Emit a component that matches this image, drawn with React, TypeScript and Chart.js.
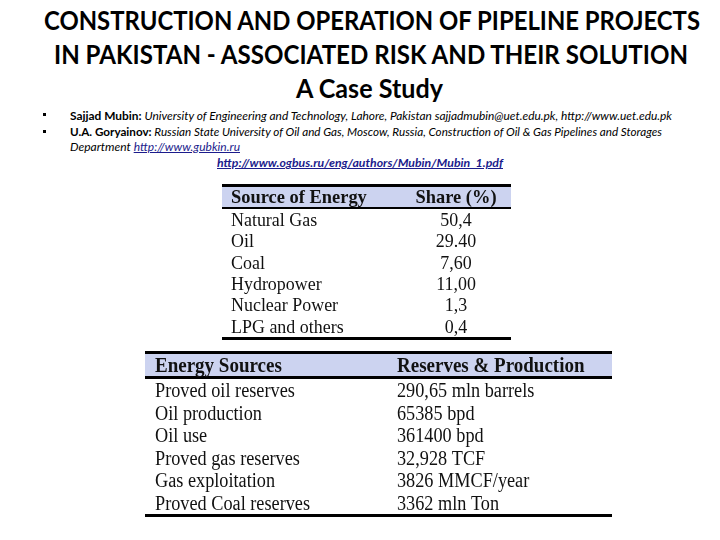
import React, { useEffect, useLayoutEffect, useRef } from "react";
import { Chart, registerables } from "chart.js";

Chart.register(...registerables);

// ---------- data ----------
const titleLines = [
  "CONSTRUCTION AND OPERATION OF PIPELINE PROJECTS",
  "IN PAKISTAN - ASSOCIATED RISK AND THEIR SOLUTION",
  "A Case Study",
];

const energySources = ["Natural Gas", "Oil", "Coal", "Hydropower", "Nuclear Power", "LPG and others"];
const energyShares = [50.4, 29.4, 7.6, 11.0, 1.3, 0.4];
const shareLabels = ["50,4", "29.40", "7,60", "11,00", "1,3", "0,4"];
const table1Header = ["Source of Energy", "Share (%)"];

const reserveItems = [
  "Proved oil reserves",
  "Oil production",
  "Oil use",
  "Proved gas reserves",
  "Gas exploitation",
  "Proved Coal reserves",
];
const reserveValues = [290.65, 65385, 361400, 32.928, 3826, 3362];
const reserveLabels = ["290,65 mln barrels", "65385 bpd", "361400 bpd", "32,928 TCF", "3826 MMCF/year", "3362 mln Ton"];
const table2Header = ["Energy Sources", "Reserves & Production"];

// ---------- drawing helpers ----------
function drawText(ctx: any, text: string, x: number, y: number, font: string, sx: number, align: string) {
  ctx.save();
  ctx.font = font;
  ctx.textAlign = "left";
  ctx.textBaseline = "alphabetic";
  const w = ctx.measureText(text).width * sx;
  const x0 = align === "center" ? x - w / 2 : x;
  ctx.translate(x0, y);
  ctx.scale(sx, 1);
  ctx.fillText(text, 0, 0);
  ctx.restore();
}

const tablePlugin = {
  id: "tableDraw",
  afterDraw(chart: any, _args: any, o: any) {
    const { ctx, chartArea } = chart;
    const yScale = chart.scales.y;
    const W = chart.width;
    ctx.save();
    // header band
    ctx.fillStyle = o.headerFill;
    ctx.fillRect(0, o.topRule, W, chartArea.top - o.midRule - o.topRule);
    ctx.fillStyle = "#000";
    ctx.fillRect(0, 0, W, o.topRule);
    ctx.fillRect(0, chartArea.top - o.midRule, W, o.midRule);
    ctx.fillRect(0, chartArea.bottom, W, o.bottomRule);
    // header text
    ctx.fillStyle = "#111";
    const headCenter = (o.topRule + chartArea.top - o.midRule) / 2;
    const headFont = `bold ${o.headSize}px "Liberation Serif", "Times New Roman", serif`;
    const bodyFont = `${o.bodySize}px "Liberation Serif", "Times New Roman", serif`;
    const hb = headCenter + o.headSize * 0.33;
    drawText(ctx, o.header[0], chartArea.left + o.col1, hb, headFont, o.headSx, "left");
    drawText(ctx, o.header[1], chartArea.left + o.col2, hb, headFont, o.headSx, o.col2Align);
    // rows
    const labels = chart.data.labels as string[];
    labels.forEach((lab: string, i: number) => {
      const yc = yScale.getPixelForValue(i);
      const b = yc + o.bodySize * 0.33;
      drawText(ctx, lab, chartArea.left + o.col1, b, bodyFont, o.bodySx, "left");
      drawText(ctx, o.valueLabels[i], chartArea.left + o.col2, b, bodyFont, o.bodySx, o.col2Align);
    });
    ctx.restore();
  },
};

function TableChart(props: any) {
  const ref = useRef<HTMLCanvasElement>(null);
  const g = props.geom;
  useEffect(() => {
    const chart = new Chart(ref.current as HTMLCanvasElement, {
      type: "bar",
      data: {
        labels: props.rows,
        datasets: [{ data: props.values, backgroundColor: "rgba(0,0,0,0)", borderWidth: 0 }],
      },
      options: {
        animation: false,
        responsive: false,
        devicePixelRatio: 1,
        indexAxis: "y",
        events: [],
        layout: { padding: { top: g.padTop, bottom: g.padBottom, left: 0, right: 0 } },
        scales: { x: { display: false }, y: { display: false } },
        plugins: {
          legend: { display: false },
          tooltip: { enabled: false },
          title: { display: false },
          tableDraw: {
            header: props.header,
            valueLabels: props.valueLabels,
            headerFill: "#ccd3f0",
            topRule: g.topRule,
            midRule: g.midRule,
            bottomRule: g.bottomRule,
            col1: g.col1,
            col2: g.col2,
            col2Align: g.col2Align,
            headSize: g.headSize,
            bodySize: g.bodySize,
            headSx: g.headSx,
            bodySx: g.bodySx,
          },
        } as any,
      } as any,
      plugins: [tablePlugin],
    });
    return () => chart.destroy();
  }, []);
  return (
    <canvas
      ref={ref}
      width={g.width}
      height={g.height}
      style={{ position: "absolute", left: g.left, top: g.top, width: g.width, height: g.height }}
    />
  );
}

function FitLine(props: any) {
  const ref = useRef<HTMLSpanElement>(null);
  useLayoutEffect(() => {
    const el = ref.current;
    if (!el) return;
    el.style.transform = "none";
    const w = el.getBoundingClientRect().width;
    if (w > 0) el.style.transform = `scaleX(${props.width / w})`;
  }, [props.width]);
  return (
    <div
      style={{
        position: "absolute",
        left: props.left,
        top: props.top,
        whiteSpace: "nowrap",
        lineHeight: props.lh + "px",
        height: props.lh,
      }}
    >
      <span ref={ref} style={{ display: "inline-block", transformOrigin: "0 50%", ...props.style }}>
        {props.children}
      </span>
    </div>
  );
}

const titleStyle = { fontFamily: "Lato, 'Open Sans', sans-serif", fontWeight: 700, fontSize: 26.5, color: "#000" };
const authStyle = { fontFamily: "Lato, 'Open Sans', sans-serif", fontSize: 11.5, color: "#000" };
const linkStyle = { color: "#1c1c8c", textDecoration: "underline" };

export default function App() {
  useLayoutEffect(() => {
    document.body.style.margin = "0";
    document.body.style.background = "#fff";
  }, []);

  return (
    <div style={{ position: "relative", width: 720, height: 540, overflow: "hidden", background: "#fff" }}>
      <FitLine left={44} top={4} width={656} lh={32} style={titleStyle}>{titleLines[0]}</FitLine>
      <FitLine left={54} top={38} width={634} lh={32} style={titleStyle}>{titleLines[1]}</FitLine>
      <FitLine left={296} top={72} width={147} lh={32} style={titleStyle}>{titleLines[2]}</FitLine>

      <div style={{ position: "absolute", left: 43, top: 113, width: 3, height: 3, background: "#000" }} />
      <div style={{ position: "absolute", left: 43, top: 130, width: 3, height: 3, background: "#000" }} />

      <FitLine left={70} top={108} width={602} lh={14} style={authStyle}>
        <b>Sajjad Mubin:</b>
        <i> University of Engineering and Technology, Lahore, Pakistan sajjadmubin@uet.edu.pk, http://www.uet.edu.pk</i>
      </FitLine>
      <FitLine left={70} top={124} width={592} lh={14} style={authStyle}>
        <b>U.A. Goryainov:</b>
        <i> Russian State University of Oil and Gas, Moscow, Russia, Construction of Oil &amp; Gas Pipelines and Storages</i>
      </FitLine>
      <FitLine left={70} top={139} width={170} lh={14} style={authStyle}>
        <i>Department </i>
        <i style={linkStyle}>http://www.gubkin.ru</i>
      </FitLine>
      <FitLine left={217} top={155} width={286} lh={14} style={authStyle}>
        <b><i style={linkStyle}>http://www.ogbus.ru/eng/authors/Mubin/Mubin_1.pdf</i></b>
      </FitLine>

      <TableChart
        rows={energySources}
        values={energyShares}
        valueLabels={shareLabels}
        header={table1Header}
        geom={{
          left: 222, top: 184, width: 289, height: 157, padTop: 25, padBottom: 4,
          topRule: 3, midRule: 2, bottomRule: 3, col1: 9, col2: 234, col2Align: "center",
          headSize: 19, bodySize: 19.5, headSx: 0.97, bodySx: 0.92,
        }}
      />
      <TableChart
        rows={reserveItems}
        values={reserveValues}
        valueLabels={reserveLabels}
        header={table2Header}
        geom={{
          left: 145, top: 351, width: 467, height: 167, padTop: 28, padBottom: 4,
          topRule: 3, midRule: 3, bottomRule: 3, col1: 10, col2: 252, col2Align: "left",
          headSize: 20, bodySize: 20.5, headSx: 0.95, bodySx: 0.89,
        }}
      />
    </div>
  );
}
